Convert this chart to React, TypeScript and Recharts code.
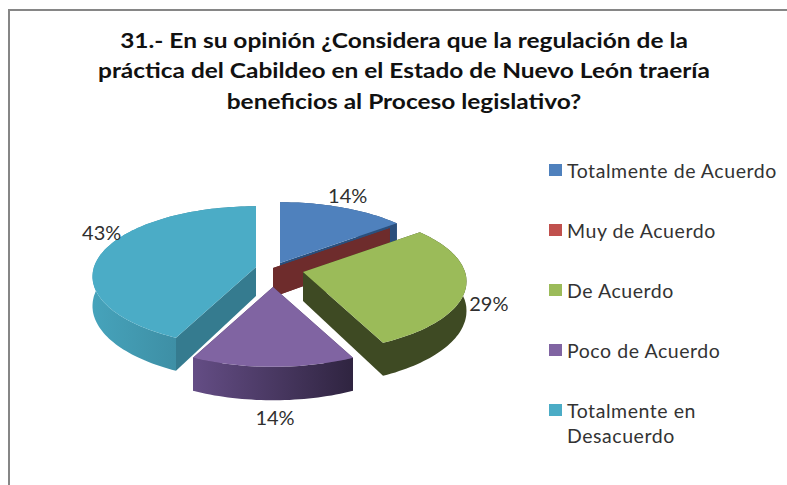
import * as React from "react"
import { PieChart, Pie, Legend } from "recharts"

const categories = ["Totalmente de Acuerdo", "Muy de Acuerdo", "De Acuerdo", "Poco de Acuerdo", "Totalmente en Desacuerdo"]
const values = [1, 0, 2, 1, 3]
const colors = ["#4f81bd", "#c0504d", "#9bbb59", "#8064a2", "#4bacc6"]
const titleLines = [
  "31.- En su opinión ¿Considera que la regulación de la",
  "práctica del Cabildeo en el Estado de Nuevo León traería",
  "beneficios al Proceso legislativo?",
]

// look of each slice: exploded offset, label nudge, wall shades
const explode = [[7, -5], [0, 0], [30, 4], [0, 19], [-17, -1]]
const labelNudge = [[5, -13], [0, 0], [23, 15], [2, 50], [-1, -20]]
const cutWall = ["#2b4f7c", "#6e2c2c", "#3e4a23", "#4a3a62", "#357b8f"]
const edgeFrom = ["#2b4f7c", "#6e2c2c", "#3e4a23", "#644d85", "#46a3bb"]
const edgeTo = ["#2b4f7c", "#6e2c2c", "#3e4a23", "#2f2440", "#367c90"]

const FONT = "Lato, 'Open Sans', sans-serif"
const SQUASH = 69 / 162
const DEPTH = 29

const tableData = categories.map((name, i) => ({ name, value: values[i], fill: colors[i] }))

// tilted-disc projection, angle in recharts degrees
function project(cx: number, cy: number, r: number, angle: number, drop = 0) {
  const rad = (angle * Math.PI) / 180
  const u = Math.cos(rad)
  const v = Math.sin(rad)
  const s = 1 / (1 + 0.135 * v)
  return [cx + r * u * s, cy - r * SQUASH * v * s + drop * s]
}

const toPath = (pts: number[][]) => "M" + pts.map((p) => p[0].toFixed(1) + "," + p[1].toFixed(1)).join("L") + "Z"

function Slice3D(props: any) {
  const { cx, cy, outerRadius, startAngle, endAngle, fill, index } = props
  const x = cx + explode[index][0]
  const y = cy + explode[index][1]
  const steps = Math.max(1, Math.ceil(Math.abs(endAngle - startAngle) / 1.5))
  const arcTop: number[][] = []
  const arcBottom: number[][] = []
  for (let i = 0; i <= steps; i++) {
    const a = startAngle + ((endAngle - startAngle) * i) / steps
    arcTop.push(project(x, y, outerRadius, a))
    arcBottom.push(project(x, y, outerRadius, a, DEPTH))
  }
  const apex = [x, y]
  const apexLow = [x, y + DEPTH]
  const gradId = "edge-" + index
  const wall = (top: number[], low: number[]) => toPath([apex, top, low, apexLow])
  const last = arcTop.length - 1
  return (
    <g>
      <defs>
        <linearGradient id={gradId} x1="0" y1="0" x2="1" y2="0">
          <stop offset="0%" stopColor={edgeFrom[index]} />
          <stop offset="100%" stopColor={edgeTo[index]} />
        </linearGradient>
      </defs>
      <path d={wall(arcTop[0], arcBottom[0])} fill={cutWall[index]} />
      <path d={wall(arcTop[last], arcBottom[last])} fill={cutWall[index]} />
      {steps > 1 && <path d={toPath([...arcTop, ...arcBottom.slice().reverse()])} fill={`url(#${gradId})`} />}
      {steps > 1 && <path d={toPath([apex, ...arcTop])} fill={fill} />}
    </g>
  )
}

function renderPercent(props: any) {
  const { cx, cy, outerRadius, midAngle, index, percent } = props
  if (!values[index]) return null
  const p = project(cx + explode[index][0], cy + explode[index][1], outerRadius, midAngle)
  return (
    <text
      x={p[0] + labelNudge[index][0]}
      y={p[1] + labelNudge[index][1]}
      textAnchor="middle"
      dominantBaseline="central"
      fontFamily={FONT}
      fontSize={20}
      fill="#2f2f2f"
    >
      {Math.round(percent * 100) + "%"}
    </text>
  )
}

function LegendList({ payload }: any) {
  return (
    <div style={{ fontFamily: FONT, fontSize: 19.5, lineHeight: "25px", color: "#333333", letterSpacing: 0.55 }}>
      {(payload || []).map((item: any) => (
        <div key={item.value} style={{ position: "relative", height: 60, paddingLeft: 18, width: 222 }}>
          <span style={{ position: "absolute", left: 0, top: 6, width: 13, height: 12, background: item.color }} />
          {item.value}
        </div>
      ))}
    </div>
  )
}

export default function App() {
  return (
    <div style={{ position: "absolute", left: 0, top: 0, width: 787, height: 485, overflow: "hidden", background: "#fff" }}>
      <PieChart width={787} height={485} margin={{ top: 0, right: 0, bottom: 0, left: 0 }}>
        <rect x={9} y={10} width={800} height={500} fill="#fff" stroke="#868686" strokeWidth={2} />
        {titleLines.map((line, i) => (
          <text
            key={line}
            transform={`translate(404,${47.5 + i * 30.5}) scale(1.165,1)`}
            textAnchor="middle"
            fontFamily={FONT}
            fontWeight={700}
            fontSize={21}
            fill="#111111"
          >
            {line}
          </text>
        ))}
        <Pie
          data={tableData}
          dataKey="value"
          nameKey="name"
          cx={273}
          cy={268}
          outerRadius={162}
          startAngle={90}
          endAngle={-270}
          stroke="none"
          shape={Slice3D}
          label={renderPercent}
          labelLine={false}
          isAnimationActive={false}
        />
        <Legend
          layout="vertical"
          itemSorter={null}
          content={<LegendList />}
          wrapperStyle={{ position: "absolute", left: 549, top: 158, width: 230, bottom: "auto", right: "auto" }}
        />
      </PieChart>
    </div>
  )
}
